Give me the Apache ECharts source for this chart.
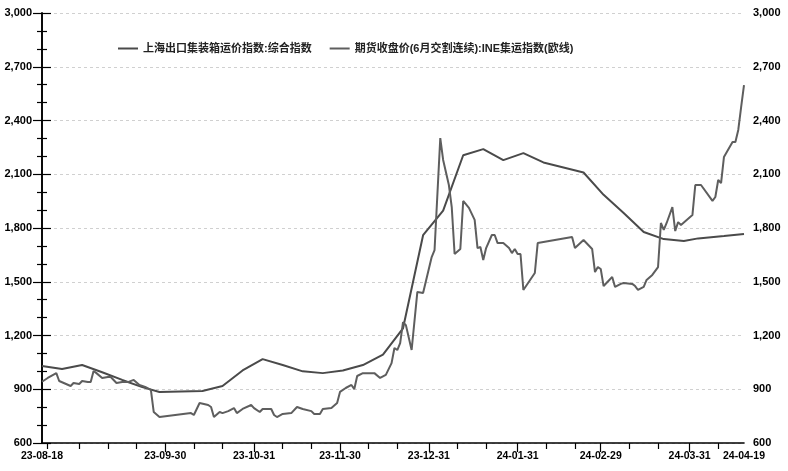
<!DOCTYPE html>
<html><head><meta charset="utf-8">
<script src="https://cdn.jsdelivr.net/npm/echarts@6/dist/echarts.min.js"></script>
<style>html,body{margin:0;padding:0;background:#fff}#c{width:788px;height:471px}</style>
</head><body><div id="c"></div>
<script>
const scfiName = '上海出口集装箱运价指数:综合指数';
const futName = '期货收盘价(6月交割连续):INE集运指数(欧线)';

const scfiDates = ['2023-08-18','2023-08-25','2023-09-01','2023-09-08','2023-09-15','2023-09-22','2023-09-28','2023-10-13','2023-10-20','2023-10-27','2023-11-03','2023-11-10','2023-11-17','2023-11-24','2023-12-01','2023-12-08','2023-12-15','2023-12-22','2023-12-29','2024-01-05','2024-01-12','2024-01-19','2024-01-26','2024-02-02','2024-02-09','2024-02-23','2024-03-01','2024-03-08','2024-03-15','2024-03-22','2024-03-29','2024-04-03','2024-04-12','2024-04-19'];
const scfiValues = [1030,1013,1035,995,952,912,885,890,918,1005,1068,1035,1000,990,1005,1035,1093,1240,1760,1897,2206,2240,2179,2218,2166,2110,1985,1884,1778,1738,1727,1742,1755,1766];

const futDates = ['2023-08-18','2023-08-20','2023-08-23','2023-08-24','2023-08-28','2023-08-29','2023-08-31','2023-09-01','2023-09-03','2023-09-04','2023-09-05','2023-09-06','2023-09-08','2023-09-10','2023-09-11','2023-09-13','2023-09-15','2023-09-17','2023-09-19','2023-09-21','2023-09-23','2023-09-25','2023-09-26','2023-09-28',
'2023-10-09','2023-10-10','2023-10-12','2023-10-15','2023-10-16','2023-10-17','2023-10-19','2023-10-20','2023-10-22','2023-10-24','2023-10-25','2023-10-27','2023-10-30','2023-10-31',
'2023-11-02','2023-11-03','2023-11-06','2023-11-07','2023-11-08','2023-11-10','2023-11-13','2023-11-15','2023-11-17','2023-11-20','2023-11-21','2023-11-23','2023-11-24','2023-11-27','2023-11-29','2023-11-30',
'2023-12-02','2023-12-04','2023-12-05','2023-12-06','2023-12-08','2023-12-12','2023-12-14','2023-12-16','2023-12-18','2023-12-19','2023-12-20','2023-12-21','2023-12-22','2023-12-23','2023-12-25','2023-12-27','2023-12-29',
'2024-01-01','2024-01-02','2024-01-04','2024-01-05','2024-01-07','2024-01-08','2024-01-09','2024-01-11','2024-01-12','2024-01-14','2024-01-16','2024-01-17','2024-01-18','2024-01-19','2024-01-20','2024-01-22','2024-01-23','2024-01-24','2024-01-26','2024-01-28','2024-01-29','2024-01-30','2024-01-31',
'2024-02-01','2024-02-02','2024-02-06','2024-02-07','2024-02-19','2024-02-20','2024-02-23','2024-02-26','2024-02-27','2024-02-28','2024-02-29',
'2024-03-01','2024-03-03','2024-03-04','2024-03-05','2024-03-07','2024-03-08','2024-03-11','2024-03-12','2024-03-13','2024-03-15','2024-03-16','2024-03-18','2024-03-20','2024-03-21','2024-03-22','2024-03-23','2024-03-25','2024-03-26','2024-03-27','2024-03-28',
'2024-04-01','2024-04-02','2024-04-04','2024-04-08','2024-04-09','2024-04-10','2024-04-11','2024-04-12','2024-04-15','2024-04-16','2024-04-17','2024-04-18','2024-04-19'];
const futValues = [942,963,990,946,918,935,929,946,940,940,1002,990,963,968,968,935,940,940,952,924,913,896,773,745,
767,756,823,812,801,745,773,767,778,795,767,790,812,795,
773,790,790,756,745,762,767,801,790,778,762,762,790,795,823,885,
907,924,901,974,990,990,963,980,1046,1130,1119,1158,1275,1258,1119,1443,1437,
1638,1677,2302,2180,2040,1917,1655,1683,1951,1912,1845,1688,1694,1621,1688,1761,1761,1716,1716,1688,1660,1683,1655,
1655,1454,1549,1716,1750,1688,1733,1683,1554,1582,1571,
1476,1510,1527,1471,1488,1493,1488,1476,1454,1471,1510,1538,1582,1828,1789,1828,1917,1783,1833,1817,
1872,2040,2040,1951,1973,2068,2051,2196,2280,2280,2347,2475,2598];

const xStart = '2023-08-18', xEnd = '2024-04-19';
const xLabelDates = ['2023-08-18','2023-09-30','2023-10-31','2023-11-30','2023-12-31','2024-01-31','2024-02-29','2024-03-31','2024-04-19'];
const xMajorTickDates = ['2023-09-30','2023-10-31','2023-11-30','2023-12-31','2024-01-31','2024-02-29','2024-03-31'];
const xMinorTickDates = ['2023-08-20','2023-08-31','2023-09-10','2023-09-20','2023-10-10','2023-10-20','2023-11-10','2023-11-20','2023-12-10','2023-12-20','2024-01-10','2024-01-20','2024-02-10','2024-02-20','2024-03-10','2024-03-20','2024-04-10'];
const yMin = 600, yMax = 3000, yStep = 300;

const DAY = 86400000;
function utc(s){const p=s.split('-');return Date.UTC(+p[0],+p[1]-1,+p[2]);}
const t0 = utc(xStart);
function dayOf(s){return Math.round((utc(s)-t0)/DAY);}
function pad(n){return String(n).padStart(2,'0');}
function fmt(v){const d=new Date(t0+Math.round(v)*DAY);return String(d.getUTCFullYear()).slice(2)+'-'+pad(d.getUTCMonth()+1)+'-'+pad(d.getUTCDate());}

const font = "'Liberation Sans', Arial, sans-serif";
const chart = echarts.init(document.getElementById('c'));

function yAxis(pos, split){
  return {
    type:'value', min:yMin, max:yMax, interval:yStep, position:pos,
    axisLine:{show:true,lineStyle:{color:'#000',width:1.6}},
    axisTick:{show:true,length:9,lineStyle:{color:'#000',width:1.2}},
    minorTick:{show:true,splitNumber:3,length:5,lineStyle:{color:'#000',width:1.2}},
    axisLabel:{color:'#000',fontSize:11,fontWeight:'bold',fontFamily:font,margin:pos==='left'?10:9,
      formatter:v=>v.toLocaleString('en-US')},
    splitLine:{show:split,lineStyle:{color:'#d0d0d0',type:[3,3],width:1}},
    minorSplitLine:{show:false}
  };
}

chart.setOption({
  animation:false,
  backgroundColor:'#fff',
  grid:{left:42,right:44,top:13,bottom:28,containLabel:false},
  legend:{
    top:38,left:113,itemWidth:20,itemHeight:2,itemGap:18,
    icon:'rect',
    textStyle:{fontSize:11,fontWeight:'bold',color:'#222',fontFamily:"'Liberation Sans', 'Noto Sans CJK SC', sans-serif"},
    data:[scfiName,futName]
  },
  xAxis:[{
    type:'value', min:0, max:dayOf(xEnd),
    axisLine:{show:true,lineStyle:{color:'#000',width:1.6}},
    axisTick:{show:true,length:9,customValues:xMajorTickDates.map(dayOf),lineStyle:{color:'#000',width:1.2}},
    axisLabel:{show:true,customValues:xLabelDates.map(dayOf),formatter:v=>fmt(v),color:'#000',fontSize:10.5,fontWeight:'bold',fontFamily:font,margin:8,hideOverlap:false},
    splitLine:{show:false}
  },{
    type:'value', min:0, max:dayOf(xEnd), position:'bottom',
    axisLine:{show:false},
    axisTick:{show:true,length:6,customValues:xMinorTickDates.map(dayOf),lineStyle:{color:'#000',width:1.2}},
    axisLabel:{show:false},
    splitLine:{show:false}
  }],
  yAxis:[yAxis('left',true), yAxis('right',false)],
  series:[{
    name:scfiName,type:'line',xAxisIndex:0,yAxisIndex:0,symbol:'none',
    lineStyle:{color:'#4a4a4a',width:2},itemStyle:{color:'#4a4a4a'},
    data:scfiDates.map((d,i)=>[dayOf(d),scfiValues[i]])
  },{
    name:futName,type:'line',xAxisIndex:0,yAxisIndex:1,symbol:'none',
    lineStyle:{color:'#5e5e5e',width:2},itemStyle:{color:'#5e5e5e'},
    data:futDates.map((d,i)=>[dayOf(d),futValues[i]])
  }]
});
</script></body></html>
